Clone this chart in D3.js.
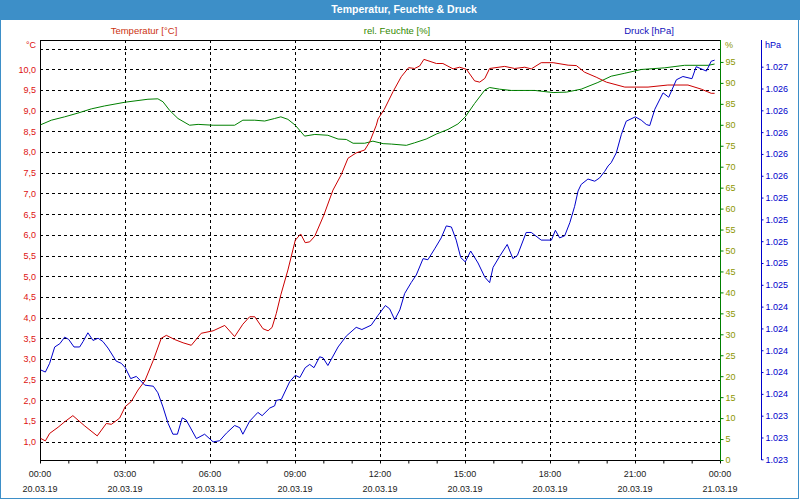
<!DOCTYPE html>
<html>
<head>
<meta charset="utf-8">
<script src="https://cdn.jsdelivr.net/npm/d3@7"></script>
<style>
  html, body { margin: 0; padding: 0; background: #fff; }
  svg { display: block; }
  text { font-family: "Liberation Sans", Arial, sans-serif; font-size: 9.5px; }
</style>
</head>
<body>
<svg id="chart" width="800" height="500"></svg>
<script>
// ---------------- DATA ----------------
const chartTitle = "Temperatur, Feuchte & Druck";
const seriesNames = ["Temperatur [°C]", "rel. Feuchte [%]", "Druck [hPa]"];
const units = ["°C", "%", "hPa"];

// temperature (°C), hours since 20.03.19 00:00
const tempHours = [0.02,0.19,0.34,0.64,0.87,1.16,1.58,2.02,2.34,2.52,2.81,3.01,3.22,3.46,3.70,4.00,4.28,4.46,4.75,5.05,5.34,5.69,6.11,6.52,6.87,7.16,7.40,7.58,7.87,8.05,8.19,8.34,8.50,8.75,9.01,9.20,9.36,9.52,9.70,10.02,10.34,10.63,10.87,11.16,11.46,11.64,11.87,11.93,12.15,12.46,12.75,13.01,13.22,13.40,13.55,13.99,14.22,14.58,14.81,15.05,15.34,15.52,15.70,15.87,16.40,16.75,17.11,17.34,17.69,18.11,18.64,18.93,19.22,19.63,19.99,20.64,21.46,22.16,22.87,23.34,23.69,23.81];
const tempValues = [1.08,1.02,1.20,1.35,1.48,1.63,1.38,1.14,1.44,1.42,1.57,1.85,1.97,2.25,2.47,2.97,3.50,3.57,3.47,3.39,3.33,3.62,3.68,3.81,3.54,3.84,4.02,4.02,3.73,3.68,3.76,4.10,4.55,5.15,5.87,6.02,5.81,5.83,5.97,6.48,7.08,7.45,7.85,7.98,8.05,8.25,8.65,8.80,9.03,9.46,9.82,10.04,10.02,10.08,10.24,10.14,10.14,10.01,10.05,10.00,9.72,9.69,9.78,10.02,10.07,10.02,10.05,10.01,10.16,10.16,10.10,10.09,9.93,9.81,9.69,9.57,9.57,9.62,9.62,9.52,9.42,9.42];

// relative humidity (%)
const humHours = [0.02,0.40,0.87,1.34,1.81,2.28,3.01,3.81,4.16,4.34,4.58,4.87,5.28,5.58,6.11,6.87,7.16,7.58,7.93,8.28,8.50,8.75,9.01,9.34,9.70,10.16,10.52,10.81,11.05,11.46,11.75,12.11,12.40,12.93,13.22,13.63,13.99,14.40,14.75,15.01,15.34,15.70,15.87,16.22,16.63,17.46,18.11,18.58,19.10,19.69,20.16,20.64,21.22,22.05,22.75,23.58,23.81];
const humValues = [80.0,81.1,81.9,82.8,83.8,84.5,85.4,86.1,86.2,85.5,83.4,81.5,79.9,80.1,79.9,79.9,81.1,81.1,80.9,81.5,81.9,81.3,79.9,77.3,77.7,77.5,76.6,76.5,75.6,75.6,76.1,75.5,75.4,75.1,75.7,76.6,77.8,78.9,80.2,81.9,85.1,88.3,88.9,88.5,88.2,88.2,87.7,87.8,88.5,90.1,91.6,92.3,93.2,93.6,94.2,94.2,94.5];

// air pressure (hPa)
const presHours = [0.02,0.19,0.34,0.52,0.70,0.87,1.01,1.20,1.40,1.52,1.69,1.87,2.05,2.22,2.40,2.69,2.87,3.01,3.20,3.40,3.70,4.00,4.16,4.34,4.52,4.69,4.85,5.02,5.16,5.52,5.81,6.11,6.34,6.58,6.87,7.05,7.16,7.40,7.69,7.84,8.11,8.28,8.34,8.52,8.81,9.01,9.17,9.36,9.52,9.67,9.87,9.99,10.16,10.52,10.81,11.16,11.36,11.69,11.93,12.19,12.34,12.52,12.70,12.87,13.10,13.28,13.52,13.69,13.93,14.16,14.34,14.52,14.69,14.85,15.01,15.20,15.46,15.70,15.87,15.99,16.22,16.49,16.69,16.85,17.16,17.34,17.69,18.05,18.19,18.34,18.52,18.70,18.87,18.99,19.10,19.34,19.58,19.75,19.93,20.05,20.16,20.34,20.52,20.69,21.01,21.22,21.40,21.52,21.70,21.99,22.19,22.46,22.69,23.01,23.16,23.52,23.69,23.81];
const presValues = [1023.82,1023.80,1023.88,1024.03,1024.06,1024.12,1024.10,1024.03,1024.03,1024.08,1024.16,1024.09,1024.11,1024.08,1024.02,1023.90,1023.88,1023.84,1023.74,1023.76,1023.68,1023.67,1023.61,1023.48,1023.33,1023.23,1023.23,1023.38,1023.36,1023.19,1023.23,1023.16,1023.17,1023.24,1023.31,1023.29,1023.23,1023.35,1023.43,1023.40,1023.47,1023.49,1023.54,1023.55,1023.71,1023.77,1023.75,1023.84,1023.87,1023.84,1023.94,1023.93,1023.86,1024.03,1024.13,1024.21,1024.19,1024.23,1024.32,1024.41,1024.38,1024.28,1024.37,1024.52,1024.62,1024.69,1024.84,1024.83,1024.93,1025.03,1025.14,1025.13,1025.01,1024.85,1024.81,1024.91,1024.80,1024.67,1024.62,1024.76,1024.86,1024.97,1024.84,1024.87,1025.08,1025.08,1025.01,1025.01,1025.10,1025.03,1025.05,1025.17,1025.32,1025.46,1025.52,1025.57,1025.55,1025.58,1025.64,1025.69,1025.72,1025.81,1025.98,1026.10,1026.14,1026.11,1026.07,1026.06,1026.21,1026.36,1026.32,1026.48,1026.51,1026.49,1026.60,1026.56,1026.65,1026.66];

// tick values
const tempTicks = [1.0,1.5,2.0,2.5,3.0,3.5,4.0,4.5,5.0,5.5,6.0,6.5,7.0,7.5,8.0,8.5,9.0,9.5,10.0];
const tempGridExtra = [10.5];
const humTicks = [0,5,10,15,20,25,30,35,40,45,50,55,60,65,70,75,80,85,90,95];
const presTicks = [1023.0,1023.2,1023.4,1023.6,1023.8,1024.0,1024.2,1024.4,1024.6,1024.8,1025.0,1025.2,1025.4,1025.6,1025.8,1026.0,1026.2,1026.4,1026.6];

// ---------------- CHART ----------------
const svg = d3.select("#chart");
const L = 40, R = 720, T = 40, B = 460;
const FONT = "'Liberation Sans', Arial, sans-serif";
const TICKSIZE = "9px";
const deLocale = d3.formatLocale({decimal: ",", thousands: ".", grouping: [3], currency: ["", " €"]});
const fmtTemp = deLocale.format(",.1f");
const fmtPres = deLocale.format(",.0f");

const t0 = new Date(2019, 2, 20, 0, 0);
const t1 = new Date(2019, 2, 21, 0, 0);
const toDate = h => new Date(t0.getTime() + h * 3600000);

const x = d3.scaleTime().domain([t0, t1]).range([L, R]);
const yT = d3.scaleLinear().domain([1.0, 10.0]).range([441.7, 69.3]);
const yH = d3.scaleLinear().domain([0, 100]).range([B, 41]);
const yP = d3.scaleLinear().domain([1023.0, 1026.6]).range([459.3, 66.7]);

const frameBlue = "#3d8fc8";
const cT = "#cc0000", cH = "#008000", cP = "#0000cc";

// title bar
svg.append("rect").attr("x", 0).attr("y", 0).attr("width", 800).attr("height", 20).attr("fill", frameBlue);
svg.append("text").attr("x", 404).attr("y", 13).attr("text-anchor", "middle")
  .attr("fill", "#fff").attr("font-weight", "bold").style("font-size", "10.5px").text(chartTitle);
// outer frame
svg.append("rect").attr("x", 0.5).attr("y", 0.5).attr("width", 798).attr("height", 498)
  .attr("fill", "none").attr("stroke", frameBlue);

// series labels
const labelColors = ["#cc3311", "#338800", "#1111bb"];
const labelX = [144, 397, 649];
seriesNames.forEach((s, i) => {
  svg.append("text").attr("x", labelX[i]).attr("y", 34).attr("text-anchor", "middle")
    .attr("fill", labelColors[i]).text(s);
});

// grid
const grid = svg.append("g").attr("stroke", "#000").attr("stroke-dasharray", "3,3").attr("stroke-width", 1);
tempTicks.concat(tempGridExtra).forEach(v => {
  const yy = Math.round(yT(v)) + 0.5;
  grid.append("line").attr("x1", L).attr("x2", R).attr("y1", yy).attr("y2", yy);
});
x.ticks(d3.timeHour.every(3)).forEach(d => {
  if (d.getTime() === t0.getTime() || d.getTime() === t1.getTime()) return;
  const xx = Math.round(x(d)) + 0.5;
  grid.append("line").attr("x1", xx).attr("x2", xx).attr("y1", T).attr("y2", B);
});

// plot frame lines
svg.append("line").attr("x1", L + 0.5).attr("x2", L + 0.5).attr("y1", T).attr("y2", B + 1).attr("stroke", "#000");
svg.append("line").attr("x1", L).attr("x2", R).attr("y1", T + 0.5).attr("y2", T + 0.5).attr("stroke", "#000");

// lines
function drawLine(hours, vals, yScale, color) {
  const pts = hours.map((h, i) => [toDate(h), vals[i]]);
  svg.append("path").datum(pts)
    .attr("fill", "none").attr("stroke", color).attr("stroke-width", 1)
    .attr("d", d3.line().x(d => x(d[0])).y(d => yScale(d[1])));
}
drawLine(humHours, humValues, yH, cH);
drawLine(tempHours, tempValues, yT, cT);
drawLine(presHours, presValues, yP, cP);

// bottom axis
const xAxis = svg.append("g").attr("transform", `translate(0,${B + 0.5})`)
  .call(d3.axisBottom(x).ticks(d3.timeHour.every(1)).tickSize(3).tickFormat(""));
xAxis.select(".domain").attr("stroke", "#000").attr("d", `M${L},0H${R}`);
xAxis.selectAll(".tick line").attr("stroke", "#000");
const fmtH = d3.timeFormat("%H:%M"), fmtD = d3.timeFormat("%d.%m.%y");
x.ticks(d3.timeHour.every(3)).forEach(d => {
  svg.append("text").attr("x", x(d)).attr("y", 477).attr("text-anchor", "middle").attr("fill", "#222").style("font-size", TICKSIZE).text(fmtH(d));
  svg.append("text").attr("x", x(d)).attr("y", 492).attr("text-anchor", "middle").attr("fill", "#222").style("font-size", TICKSIZE).text(fmtD(d));
});

// left temperature axis (labels only)
const tL = svg.append("g").attr("transform", `translate(${L},0)`)
  .call(d3.axisLeft(yT).tickValues(tempTicks).tickSize(0).tickPadding(4).tickFormat(fmtTemp));
tL.select(".domain").remove();
tL.selectAll("text").attr("fill", "#dd1111").style("font-size", TICKSIZE).style("font-family", FONT);
svg.append("text").attr("x", 36).attr("y", 48).attr("text-anchor", "end").attr("fill", "#dd1111").style("font-size", TICKSIZE).text(units[0]);

// right humidity axis
const hA = svg.append("g").attr("transform", `translate(${R + 0.5},0)`)
  .call(d3.axisRight(yH).tickValues(humTicks).tickSize(3).tickPadding(2).tickFormat(d3.format("d")));
hA.select(".domain").attr("stroke", cH).attr("d", `M0,${T}V${B + 1}`);
hA.selectAll(".tick line").attr("stroke", cH);
hA.selectAll("text").attr("fill", "#8c9600").style("font-size", TICKSIZE).style("font-family", FONT);
svg.append("text").attr("x", 725).attr("y", 48).attr("fill", "#8c9600").style("font-size", TICKSIZE).text(units[1]);

// pressure axis
const pA = svg.append("g").attr("transform", `translate(761.5,0)`)
  .call(d3.axisRight(yP).tickValues(presTicks).tickSize(2).tickPadding(2).tickFormat(fmtPres));
pA.select(".domain").attr("stroke", cP).attr("d", `M0,${T}V${B}`);
pA.selectAll(".tick line").attr("stroke", cP);
pA.selectAll("text").attr("fill", cP).style("font-size", TICKSIZE).style("font-family", FONT);
svg.append("text").attr("x", 765).attr("y", 48).attr("fill", cP).style("font-size", TICKSIZE).text(units[2]);
</script>
</body>
</html>
